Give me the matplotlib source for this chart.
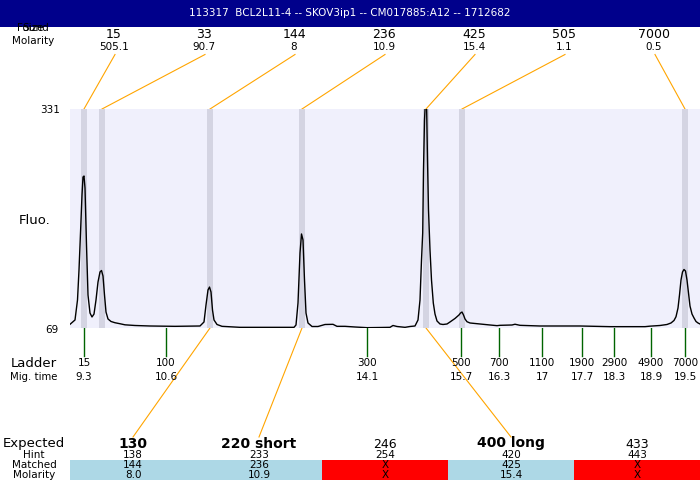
import matplotlib
matplotlib.use("Agg")
import matplotlib.pyplot as plt
from matplotlib.patches import Rectangle

title = "113317  BCL2L11-4 -- SKOV3ip1 -- CM017885:A12 -- 1712682"

# found peaks (position along the run, size, molarity)
peak_pos = [84, 102, 210, 302, 426, 462, 685]
peak_size = ["15", "33", "144", "236", "425", "505", "7000"]
peak_molarity = ["505.1", "90.7", "8", "10.9", "15.4", "1.1", "0.5"]

# ladder
ladder_pos = [84, 166, 367, 461, 499, 542, 582, 614, 651, 685]
ladder_size = ["15", "100", "300", "500", "700", "1100", "1900", "2900", "4900", "7000"]
ladder_time = ["9.3", "10.6", "14.1", "15.7", "16.3", "17", "17.7", "18.3", "18.9", "19.5"]

# expected fragments table
expected = ["130", "220 short", "246", "400 long", "433"]
expected_bold = [True, True, False, True, False]
hint = ["138", "233", "254", "420", "443"]
matched = ["144", "236", "X", "425", "X"]
matched_molarity = ["8.0", "10.9", "X", "15.4", "X"]
matched_peak = [210, 302, None, 426, None]

# electropherogram trace (position, fluorescence)
trace_x = [70, 75, 77.5, 79, 80.5, 82, 83, 84, 85, 86.5, 88, 90, 92, 94, 96, 98, 100,
           101.5, 103, 104.5, 106, 108, 111, 115, 120, 125, 135, 150, 175, 200, 204,
           206, 208, 209.5, 211, 212.5, 214, 217, 222, 240, 294, 296, 298, 300, 301.5,
           303, 304.5, 306, 308, 312, 318, 325, 333, 337, 345, 355, 367, 380, 390, 393,
           397, 405, 410, 415, 418, 420, 421.5, 422.7, 423.5, 424.5, 425.5, 426.5,
           427.5, 428.5, 430, 431.5, 433.3, 435, 437, 440, 443, 447, 450, 455, 459,
           460.5, 462, 463.5, 465, 467, 470, 475, 490, 497, 500, 512, 515, 520, 540,
           580, 610, 645, 650, 660, 667, 671, 674, 676, 678, 679.5, 681, 682.5, 684,
           685.5, 687, 688.5, 690, 692, 694, 696, 698, 700]
trace_y = [73.4, 78.6, 102.5, 138.4, 182.6, 228.1, 249.6, 250.8, 236.5, 168.3, 108.5,
           86.9, 82.2, 85.7, 102.5, 124.0, 136.0, 137.8, 131.2, 108.5, 88.1, 79.8, 76.8,
           75.3, 74.1, 72.8, 72.0, 71.4, 71.0, 71.4, 76.2, 96.5, 114.5, 118.0, 112.1,
           90.5, 78.6, 73.2, 71.0, 69.8, 69.8, 72.6, 98.9, 158.7, 181.5, 174.3, 126.4,
           86.9, 75.0, 70.8, 70.8, 73.2, 73.4, 71.0, 71.0, 70.2, 69.4, 69.6, 69.8, 72.0,
           70.8, 69.8, 70.8, 71.4, 78.6, 102.5, 150.3, 182.6, 258.0, 317.8, 341.8, 341.8,
           270.0, 210.2, 162.3, 126.4, 98.9, 85.7, 77.4, 73.8, 73.2, 73.8, 76.2, 80.4,
           84.6, 86.9, 88.1, 84.6, 79.8, 76.5, 75.0, 74.4, 72.6, 71.8, 72.2, 72.6, 73.5,
           72.2, 71.4, 71.4, 70.6, 70.6, 71.2, 72.0, 73.2, 75.0, 78.0, 82.5, 92.9, 108.5,
           126.4, 136.0, 139.0, 137.2, 126.4, 110.9, 95.3, 85.7, 81.0, 76.8, 75.0, 73.8]

fluo_min, fluo_max = 69, 331

W, H = 700, 480
fig = plt.figure(figsize=(7, 4.8), dpi=100)

# overlay in pixel coordinates for labels and connectors
ov = fig.add_axes([0, 0, 1, 1])
ov.set_xlim(0, W)
ov.set_ylim(H, 0)
ov.axis("off")

# plot area
px0, px1, py0, py1 = 70, 700, 109, 328
ax = fig.add_axes([px0 / W, (H - py1) / H, (px1 - px0) / W, (py1 - py0) / H])
ax.set_facecolor("#F0F0FC")
ax.set_xlim(px0, px1)
ax.set_ylim(fluo_min, fluo_max)
for s in ax.spines.values():
    s.set_visible(False)
ax.set_xticks([])
ax.set_yticks([])
ax.set_zorder(1)

for p in peak_pos:
    ax.axvspan(p - 3, p + 3, color="#D4D4E2", lw=0)
ax.plot(trace_x, trace_y, color="black", lw=1.0)

# header
ov.add_patch(Rectangle((0, 0), W, 27, color="#00008B", lw=0))
ov.text(W / 2, 13.5, title, color="white", ha="center", va="center", fontsize=7.5)

fs = 7.5
# the source draws these two labels on top of each other
ov.text(33, 28, "Found", ha="center", va="center", fontsize=fs, zorder=5)
ov.text(33, 28, "Size", ha="center", va="center", fontsize=fs, zorder=5)
ov.text(33, 40.5, "Molarity", ha="center", va="center", fontsize=fs)

# top labels and connectors
for i, p in enumerate(peak_pos):
    lx = 114 + 90 * i
    ov.text(lx, 34.5, peak_size[i], ha="center", va="center", fontsize=9)
    ov.text(lx, 46.5, peak_molarity[i], ha="center", va="center", fontsize=fs)
    ov.plot([lx + 1, p], [54.5, py0], color="orange", lw=0.8)

# y labels
ov.text(60, 110, str(fluo_max), ha="right", va="center", fontsize=fs)
ov.text(58, 330, str(fluo_min), ha="right", va="center", fontsize=fs)
ov.text(35, 220.5, "Fluo.", ha="center", va="center", fontsize=9.5)

# ladder
ov.text(34, 363.5, "Ladder", ha="center", va="center", fontsize=9.5)
ov.text(34, 377, "Mig. time", ha="center", va="center", fontsize=7.3)
for i, p in enumerate(ladder_pos):
    ov.plot([p, p], [py1, 356], color="#006400", lw=1.0)
    ov.text(p, 363.5, ladder_size[i], ha="center", va="center", fontsize=fs)
    ov.text(p, 377, ladder_time[i], ha="center", va="center", fontsize=fs)

# expected table
col_w = (W - px0) / len(expected)
ov.text(34, 443, "Expected", ha="center", va="center", fontsize=9.5)
ov.text(34, 455, "Hint", ha="center", va="center", fontsize=fs)
ov.text(34, 465.5, "Matched", ha="center", va="center", fontsize=fs)
ov.text(34, 474.5, "Molarity", ha="center", va="center", fontsize=fs)
for i, e in enumerate(expected):
    cx = px0 + col_w * (i + 0.5)
    ok = matched[i] != "X"
    ov.add_patch(Rectangle((px0 + col_w * i, 460), col_w, 20,
                           color="#ADD8E6" if ok else "#FF0000", lw=0))
    if expected_bold[i]:
        ov.text(cx, 443.5, e, ha="center", va="center", fontsize=10, fontweight="bold")
    else:
        ov.text(cx, 444, e, ha="center", va="center", fontsize=9)
    ov.text(cx, 455.5, hint[i], ha="center", va="center", fontsize=fs)
    ov.text(cx, 465.5, matched[i], ha="center", va="center", fontsize=fs)
    ov.text(cx, 474.5, matched_molarity[i], ha="center", va="center", fontsize=fs)
    if matched_peak[i] is not None:
        ov.plot([matched_peak[i], cx], [py1, 437], color="orange", lw=0.8)

fig.savefig("out.png", dpi=100)
